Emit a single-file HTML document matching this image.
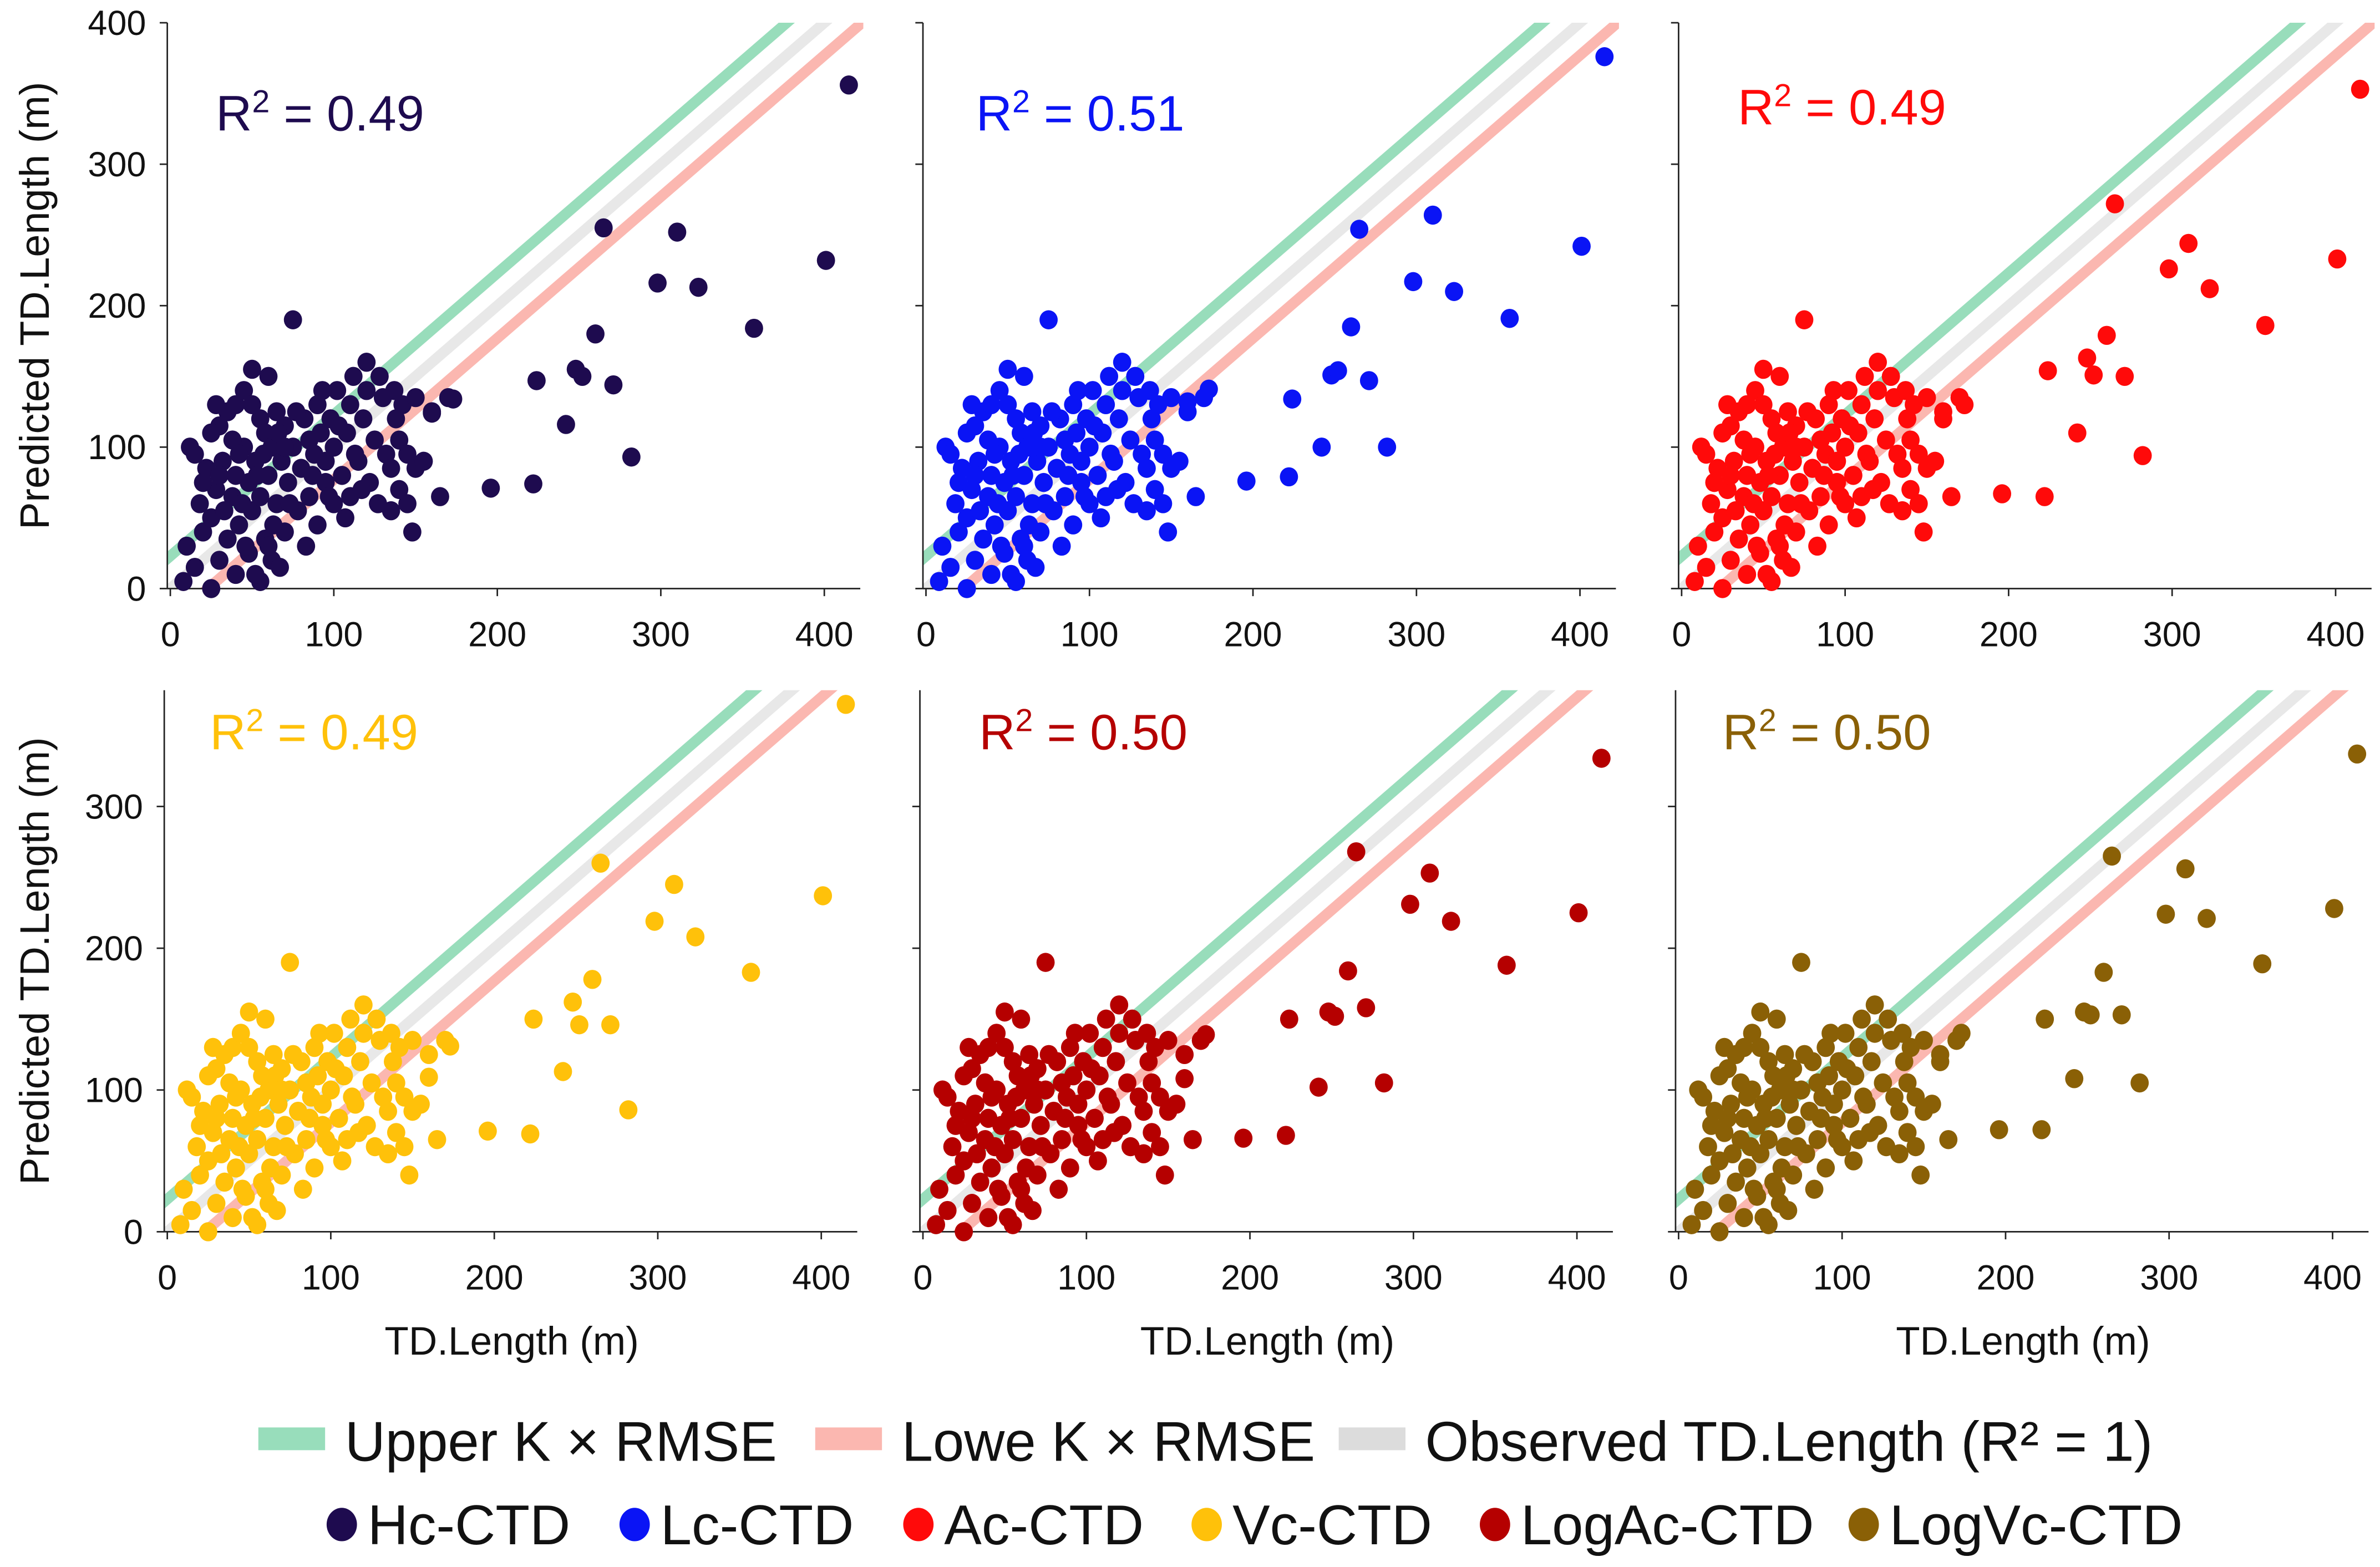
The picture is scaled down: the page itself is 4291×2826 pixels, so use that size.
<!DOCTYPE html>
<html><head><meta charset="utf-8"><style>
html,body{margin:0;padding:0;background:#fff;}
svg{display:block;}
text{font-family:"Liberation Sans Narrow","Liberation Sans",sans-serif;}
</style></head><body>
<svg id="chart" xmlns="http://www.w3.org/2000/svg" width="4291" height="2826" viewBox="0 0 1568 1033">
<g id="root"></g>
</svg>
<script>
// shared cluster of observed / predicted values
const clusterX = [10,12,15,18,20,22,25,25,28,30,30,32,35,35,38,40,40,40,42,45,45,48,48,50,50,52,55,55,55,58,58,60,60,62,62,65,65,68,70,70,72,75,75,78,80,82,85,85,88,90,90,92,95,95,98,100,100,102,105,108,110,110,112,115,118,120,120,122,125,128,130,132,135,135,138,140,140,142,145,148,150,150,155,160,165,170,8,15,20,28,33,38,44,46,52,53,57,63,66,67,73,77,83,87,93,97,103,107,113,117,127,137,145,30,42,60,70,50,25];
const clusterY = [30,100,95,60,40,85,0,50,70,20,115,90,35,125,65,10,80,130,45,100,140,25,75,155,55,90,5,120,65,35,110,80,150,20,100,60,125,90,40,115,75,190,100,55,85,120,65,105,95,45,130,110,75,90,120,60,100,140,80,110,130,65,150,90,120,160,140,75,105,150,135,95,55,85,120,70,105,130,60,40,85,135,90,125,65,135,5,15,75,130,55,105,60,30,10,80,95,45,110,15,60,125,30,80,140,65,115,50,95,70,60,140,95,80,95,30,100,130,110];
// outliers (observed TD.Length)
const outX = [415,265,310,298,323,401,357,224,248,252,271,282,242,260,196,222,173,160];
// predicted for each model
const predHc = [356,255,252,216,213,232,184,147,155,150,144,93,116,180,71,74,134,124];
const predLc = [376,254,264,217,210,242,191,134,151,154,147,100,100,185,76,79,141,132];
const predAc = [353,272,244,226,212,233,186,154,163,151,150,94,110,179,67,65,130,120];
const predVc = [372,260,245,219,208,237,183,150,162,146,146,86,113,178,71,69,131,109];
const predLogAc = [334,268,253,231,219,225,188,150,155,152,158,105,102,184,66,68,139,108];
const predLogVc = [337,265,256,224,221,228,189,150,155,153,153,105,108,183,72,72,140,120];
const seriesNames = ["Hc-CTD","Lc-CTD","Ac-CTD","Vc-CTD","LogAc-CTD","LogVc-CTD"];
const seriesColors = ["#1e0b4f","#0a14f5","#ff0a0a","#ffc10a","#b50000","#8a6006"];
const seriesPred = [predHc,predLc,predAc,predVc,predLogAc,predLogVc];
const r2Labels = ["0.49","0.51","0.49","0.49","0.50","0.50"];
const xTicks = [0,100,200,300,400];
const yTicksTop = [0,100,200,300,400];
const yTicksBot = [0,100,200,300];
const kRmse = 23;

const NS="http://www.w3.org/2000/svg";
const root=document.getElementById('root');
function mk(tag,attrs,parent){const e=document.createElementNS(NS,tag);for(const k in attrs)e.setAttribute(k,attrs[k]);(parent||root).appendChild(e);return e;}

const panels=[
 {x0:112,y0:388,yTop:15,ymax:400,ticks:yTicksTop,r2x:142,r2y:86},
 {x0:610,y0:388,yTop:15,ymax:400,ticks:yTicksTop,r2x:643,r2y:86},
 {x0:1108,y0:388,yTop:15,ymax:400,ticks:yTicksTop,r2x:1145,r2y:82},
 {x0:110,y0:812,yTop:455,ymax:382,ticks:yTicksBot,r2x:138,r2y:494},
 {x0:608,y0:812,yTop:455,ymax:382,ticks:yTicksBot,r2x:645,r2y:494},
 {x0:1106,y0:812,yTop:455,ymax:382,ticks:yTicksBot,r2x:1135,r2y:494}];
const XS=1.0775;

panels.forEach((p,i)=>{
 const g=mk('g',{});
 
 
 const ys=(p.y0-p.yTop)/p.ymax;
 const sx=v=>p.x0+v*XS, sy=v=>p.y0-v*ys;
 const xEnd=sx(422);
 const cid='clip'+i;
 const cp=mk('clipPath',{id:cid},g);mk('rect',{x:p.x0-2,y:p.yTop,width:xEnd-p.x0+4,height:p.y0-p.yTop},cp);
 const lg=mk('g',{'clip-path':'url(#'+cid+')'},g);
 [[kRmse,'#98ddbb','upper-k-rmse-line'],[0,'#e8e8e8','observed-line'],[-kRmse,'#fbb7b0','lower-k-rmse-line']].forEach(l=>{
  const ln=mk('line',{x1:sx(-50),y1:sy(-50+l[0]),x2:sx(500),y2:sy(500+l[0]),stroke:l[1],'stroke-width':7},lg);
  
  
 });
 const ya=mk('line',{x1:p.x0-2,y1:p.yTop,x2:p.x0-2,y2:p.y0,stroke:'#222','stroke-width':1},g);
 
 
 const xa=mk('line',{x1:p.x0-2,y1:p.y0,x2:xEnd,y2:p.y0,stroke:'#222','stroke-width':1},g);
 
 
 xTicks.forEach(t=>{
  mk('line',{x1:sx(t),y1:p.y0,x2:sx(t),y2:p.y0+5,stroke:'#222','stroke-width':1},g);
  const tx=mk('text',{x:sx(t),y:p.y0+38,'text-anchor':'middle','font-size':23,fill:'#111'},g);
  tx.textContent=t;
  
  
 });
 p.ticks.forEach(t=>{
  mk('line',{x1:p.x0-7,y1:sy(t),x2:p.x0-2,y2:sy(t),stroke:'#222','stroke-width':1},g);
  if(i%3===0){
   const tx=mk('text',{x:p.x0-16,y:sy(t)+8,'text-anchor':'end','font-size':23,fill:'#111'},g);
   tx.textContent=t;
   
   
  }
 });
 const pred=seriesPred[i];
 const pts=[];
 clusterX.forEach((v,k)=>pts.push([v,clusterY[k]]));
 outX.forEach((v,k)=>pts.push([v,pred[k]]));
 pts.forEach(pt=>{
  const c=mk('ellipse',{cx:sx(pt[0]),cy:sy(pt[1]),rx:6,ry:6.3,fill:seriesColors[i]},g);
  
  
 });
 const r2=mk('text',{x:p.r2x,y:p.r2y,'font-size':33,fill:seriesColors[i]},g);
 r2.innerHTML='R<tspan dy="-12" font-size="21">2</tspan><tspan dy="12"> = '+r2Labels[i]+'</tspan>';
 
 
 if(i>=3){
  const xt=mk('text',{x:p.x0+227,y:893,'text-anchor':'middle','font-size':26,fill:'#111'},g);
  xt.textContent='TD.Length (m)';
  
  
 }
 if(i%3===0){
  const cy=(p.yTop+p.y0)/2;
  const yt=mk('text',{x:0,y:0,transform:'translate(32,'+cy+') rotate(-90)','text-anchor':'middle','font-size':27,fill:'#111'},g);
  yt.textContent='Predicted TD.Length (m)';
  
  
 }
});
const leg=mk('g',{});


[[170,'#98ddbb','Upper K × RMSE'],[537,'#fbb7b0','Lowe K × RMSE'],[882,'#dcdcdc','Observed TD.Length (R² = 1)']].forEach(l=>{
 const e=mk('g',{},leg);
 
 
 mk('rect',{x:l[0],y:941,width:44,height:15,fill:l[1]},e);
 const t=mk('text',{x:l[0]+57,y:963,'font-size':37,fill:'#111'},e);
 t.textContent=l[2];
});
const legX=[225,418,605,795,985,1228];
seriesNames.forEach((n,i)=>{
 const e=mk('g',{},leg);
 
 
 mk('ellipse',{cx:legX[i],cy:1005,rx:10,ry:11,fill:seriesColors[i]},e);
 const t=mk('text',{x:legX[i]+17,y:1018,'font-size':37,fill:'#111'},e);
 t.textContent=n;
});
</script>
</body></html>
